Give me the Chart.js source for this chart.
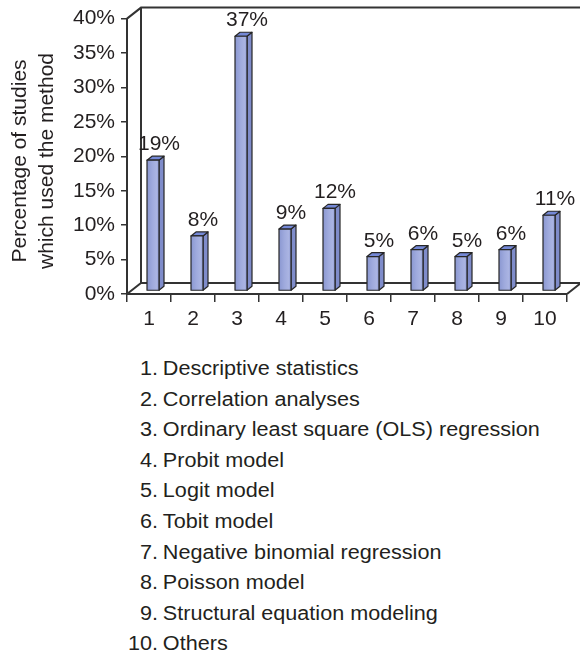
<!DOCTYPE html>
<html>
<head>
<meta charset="utf-8">
<script src="https://cdn.jsdelivr.net/npm/chart.js@4"></script>
<style>
  html, body { margin: 0; padding: 0; background: #fff; }
  body {
    width: 580px; height: 657px; position: relative; overflow: hidden;
    font-family: "Liberation Sans", Arial, Helvetica, sans-serif; color: #231f20;
  }
  #chartBox { position: absolute; left: 0; top: 0; width: 580px; height: 340px; }
  #methods {
    position: absolute; left: 0; top: 353px; margin: 0; padding: 0;
    list-style: none; font-size: 20px; line-height: 30.6px;
  }
  #methods li {
    display: flex; white-space: nowrap;
    transform: scaleX(1.08); transform-origin: 0 50%;
  }
  #methods .num { display: inline-block; width: 146.3px; text-align: right; }
  #methods .name { padding-left: 4.5px; }
</style>
</head>
<body>
<div id="chartBox"><canvas id="chart" width="580" height="340"></canvas></div>
<ul id="methods"></ul>
<script>
// Analysis methods and the share of studies using each one (%)
const categories = ['1', '2', '3', '4', '5', '6', '7', '8', '9', '10'];
const shares = [19, 8, 37, 9, 12, 5, 6, 5, 6, 11];
const methodNames = [
  'Descriptive statistics',
  'Correlation analyses',
  'Ordinary least square (OLS) regression',
  'Probit model',
  'Logit model',
  'Tobit model',
  'Negative binomial regression',
  'Poisson model',
  'Structural equation modeling',
  'Others'
];
const axisCaption = ['Percentage of studies', 'which used the method'];
const yMax = 40;
const yStep = 5;

const FONT = '"Liberation Sans", Arial, Helvetica, sans-serif';
const FONT_SIZE = 21;
const INK = '#231f20';
const EDGE = '#333333';

// depth of the box (back wall / floor offset)
const WALL_DX = 14, WALL_DY = -11;
// bars stand in the middle of the floor depth
const BAR_SHIFT_X = 4, BAR_SHIFT_Y = -3;
const BAR_DX = 5, BAR_DY = -4;

// numbered method list under the chart
const list = document.getElementById('methods');
categories.forEach((c, i) => {
  const li = document.createElement('li');
  const n = document.createElement('span');
  n.className = 'num';
  n.textContent = c + '.';
  const t = document.createElement('span');
  t.className = 'name';
  t.textContent = methodNames[i];
  li.appendChild(n);
  li.appendChild(t);
  list.appendChild(li);
});

// back wall and floor outline of the 3-D box
const boxPlugin = {
  id: 'box3d',
  beforeDatasetsDraw(chart) {
    const { ctx, chartArea: a, width } = chart;
    ctx.save();
    ctx.strokeStyle = EDGE;
    ctx.lineWidth = 2;
    ctx.lineJoin = 'miter';
    ctx.beginPath();
    // top of back wall
    ctx.moveTo(a.left, a.top);
    ctx.lineTo(a.left + WALL_DX, a.top + WALL_DY);
    ctx.lineTo(width + 2, a.top + WALL_DY);
    // back wall left edge
    ctx.moveTo(a.left + WALL_DX, a.top + WALL_DY);
    ctx.lineTo(a.left + WALL_DX, a.bottom + WALL_DY);
    // floor
    ctx.moveTo(a.left, a.bottom);
    ctx.lineTo(a.left + WALL_DX, a.bottom + WALL_DY);
    ctx.lineTo(a.right + WALL_DX, a.bottom + WALL_DY);
    ctx.lineTo(a.right, a.bottom);
    ctx.stroke();
    ctx.restore();
  }
};

// columns drawn as prisms, with value labels on top
const prismPlugin = {
  id: 'prisms',
  afterDatasetsDraw(chart) {
    const { ctx } = chart;
    const meta = chart.getDatasetMeta(0);
    ctx.save();
    meta.data.forEach((el, i) => {
      const p = el.getProps(['x', 'y', 'base', 'width'], true);
      const L = p.x - p.width / 2 + BAR_SHIFT_X;
      const R = L + p.width;
      const T = p.y + BAR_SHIFT_Y;
      const B = p.base + BAR_SHIFT_Y;

      ctx.lineWidth = 1.2;
      ctx.strokeStyle = '#262626';
      ctx.lineJoin = 'round';

      // side face
      ctx.beginPath();
      ctx.moveTo(R, T);
      ctx.lineTo(R + BAR_DX, T + BAR_DY);
      ctx.lineTo(R + BAR_DX, B + BAR_DY);
      ctx.lineTo(R, B);
      ctx.closePath();
      ctx.fillStyle = '#7f8cca';
      ctx.fill();
      ctx.stroke();

      // top face
      ctx.beginPath();
      ctx.moveTo(L, T);
      ctx.lineTo(L + BAR_DX, T + BAR_DY);
      ctx.lineTo(R + BAR_DX, T + BAR_DY);
      ctx.lineTo(R, T);
      ctx.closePath();
      ctx.fillStyle = '#7488d6';
      ctx.fill();
      ctx.stroke();

      // front face with soft cylindrical shading
      const g = ctx.createLinearGradient(L, 0, R, 0);
      g.addColorStop(0, '#8a97d1');
      g.addColorStop(0.45, '#9faadd');
      g.addColorStop(0.8, '#aab4e2');
      g.addColorStop(1, '#8f9bd4');
      ctx.beginPath();
      ctx.rect(L, T, R - L, B - T);
      ctx.fillStyle = g;
      ctx.fill();
      ctx.stroke();

      // value label
      ctx.fillStyle = INK;
      ctx.font = FONT_SIZE + 'px ' + FONT;
      ctx.textAlign = 'center';
      ctx.textBaseline = 'alphabetic';
      ctx.fillText(shares[i] + '%', p.x + 10, T + BAR_DY - 6);
    });
    ctx.restore();
  }
};

// two-line rotated caption of the value axis
const captionPlugin = {
  id: 'caption',
  afterDraw(chart) {
    const { ctx } = chart;
    ctx.save();
    ctx.fillStyle = INK;
    ctx.font = FONT_SIZE + 'px ' + FONT;
    ctx.textAlign = 'center';
    ctx.textBaseline = 'middle';
    const xs = [20, 47];
    axisCaption.forEach((line, i) => {
      ctx.save();
      ctx.translate(xs[i], 161);
      ctx.rotate(-Math.PI / 2);
      ctx.fillText(line, 0, 0);
      ctx.restore();
    });
    ctx.restore();
  }
};

new Chart(document.getElementById('chart').getContext('2d'), {
  type: 'bar',
  data: {
    labels: categories,
    datasets: [{
      data: shares,
      backgroundColor: 'rgba(0,0,0,0)',
      borderWidth: 0,
      categoryPercentage: 1,
      barPercentage: 12 / 44
    }]
  },
  options: {
    responsive: false,
    animation: false,
    devicePixelRatio: 1,
    layout: { padding: { top: 18, right: 13, left: 0, bottom: 0 } },
    plugins: { legend: { display: false }, tooltip: { enabled: false } },
    scales: {
      x: {
        offset: true,
        grid: { display: true, drawOnChartArea: false, offset: true, tickLength: 8, color: EDGE, lineWidth: 1.5 },
        border: { display: true, color: EDGE, width: 2 },
        ticks: { color: INK, font: { family: FONT, size: FONT_SIZE }, padding: 5, maxRotation: 0, autoSkip: false },
        afterFit(s) { s.height = 46; }
      },
      y: {
        min: 0,
        max: yMax,
        ticks: { stepSize: yStep, callback: v => v + '%', color: INK, font: { family: FONT, size: FONT_SIZE }, padding: 6 },
        grid: { display: true, drawOnChartArea: false, tickLength: 6, color: EDGE, lineWidth: 1.5 },
        border: { display: true, color: EDGE, width: 2 },
        afterFit(s) { s.width = 127; }
      }
    }
  },
  plugins: [boxPlugin, prismPlugin, captionPlugin]
});
</script>
</body>
</html>
